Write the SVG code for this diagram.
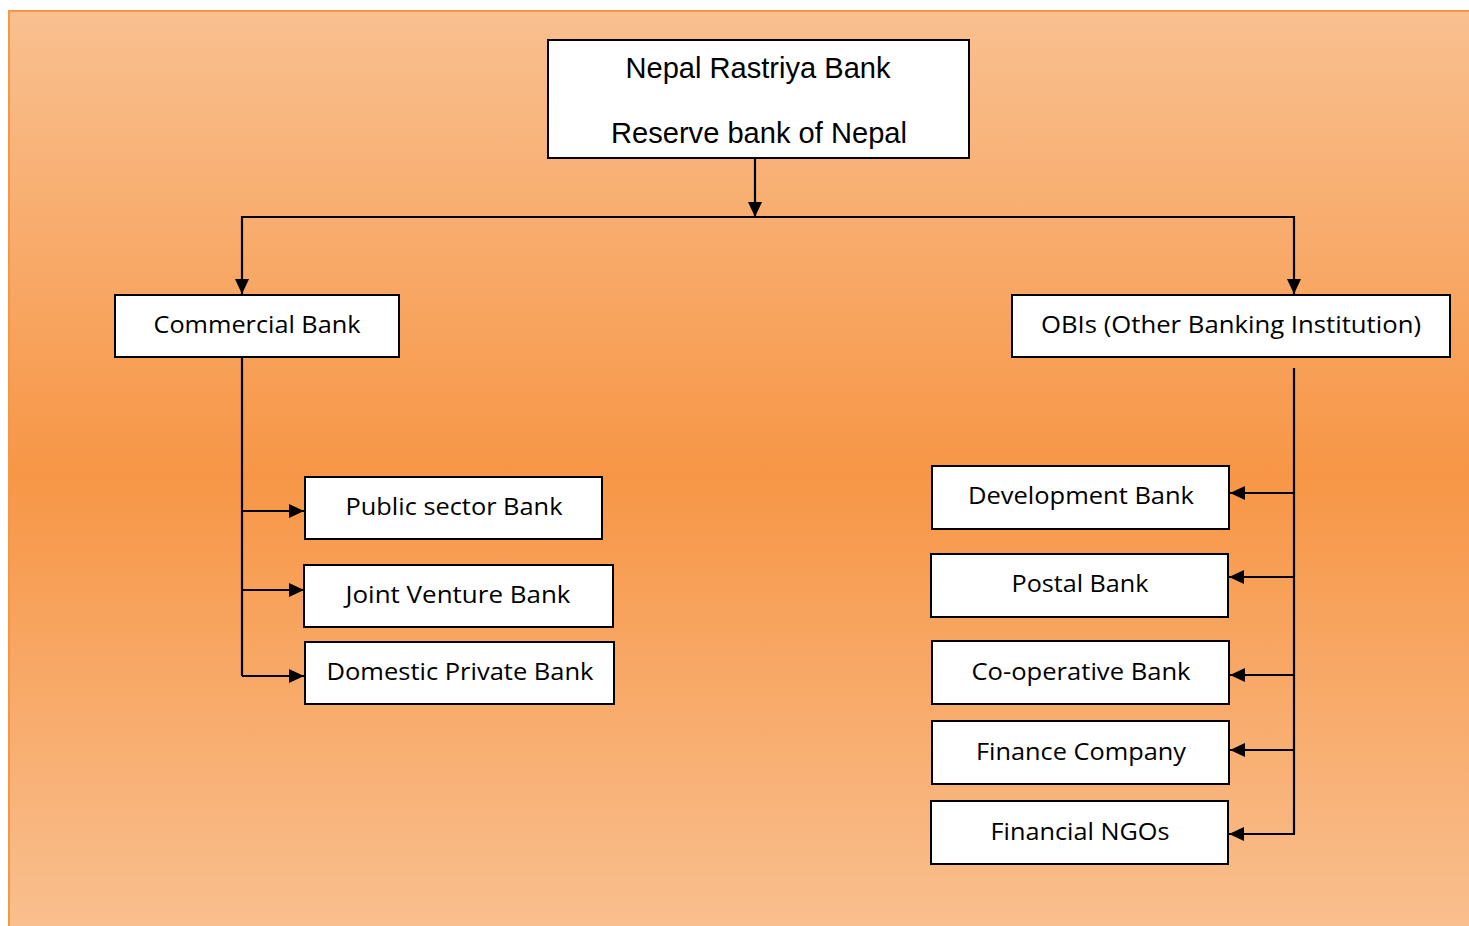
<svg xmlns="http://www.w3.org/2000/svg" width="1469" height="926" viewBox="0 0 1469 926">
<defs>
<linearGradient id="bg" x1="0" y1="0" x2="0" y2="1">
<stop offset="0" stop-color="#F9C090"/>
<stop offset="0.5" stop-color="#F79646"/>
<stop offset="1" stop-color="#F9C090"/>
</linearGradient>
<marker id="ah" viewBox="0 0 15 14" refX="15" refY="7" markerWidth="15" markerHeight="14" markerUnits="userSpaceOnUse" orient="auto">
<path d="M0,0 L15,7 L0,14 Z" fill="#000"/>
</marker>
<style>
.box{fill:#fff;stroke:#000;stroke-width:2}
.t{font-family:"Open Sans","Noto Sans",sans-serif;font-size:24px;fill:#000;text-anchor:middle}
.ta{font-family:"Liberation Sans",Arial,sans-serif;font-size:29px;fill:#000;text-anchor:middle}
.c{fill:none;stroke:#000;stroke-width:2.2}
.ca{fill:none;stroke:#000;stroke-width:2.2;marker-end:url(#ah)}
</style>
</defs>
<rect x="9" y="11" width="1470" height="925" fill="url(#bg)" stroke="#F79646" stroke-width="2"/>
<g id="connectors">
<path class="ca" d="M755,158 V217"/>
<path class="c" d="M242,217 H1294"/>
<path class="ca" d="M242,216 V294"/>
<path class="ca" d="M1294,216 V294"/>
<path class="c" d="M242,357 V676"/>
<path class="ca" d="M242,511 H304"/>
<path class="ca" d="M242,590 H304"/>
<path class="ca" d="M242,676 H304"/>
<path class="c" d="M1294,368 V834"/>
<path class="ca" d="M1295,493 H1230"/>
<path class="ca" d="M1295,577 H1229"/>
<path class="ca" d="M1295,675 H1230"/>
<path class="ca" d="M1295,750 H1230"/>
<path class="ca" d="M1295,834 H1229"/>
</g>
<g id="nrb">
<rect class="box" x="548" y="40" width="421" height="118"/>
<text class="ta" x="758" y="78" textLength="265" lengthAdjust="spacingAndGlyphs">Nepal Rastriya Bank</text>
<text class="ta" x="759" y="143" textLength="296" lengthAdjust="spacingAndGlyphs">Reserve bank of Nepal</text>
</g>
<g id="commercial">
<rect class="box" x="115" y="295" width="284" height="62"/>
<text class="t" x="257" y="333" textLength="207" lengthAdjust="spacingAndGlyphs">Commercial Bank</text>
</g>
<g id="obis">
<rect class="box" x="1012" y="295" width="438" height="62"/>
<text class="t" x="1231" y="333" textLength="380" lengthAdjust="spacingAndGlyphs">OBIs (Other Banking Institution)</text>
</g>
<g id="public">
<rect class="box" x="305" y="477" width="297" height="62"/>
<text class="t" x="454" y="515" textLength="217" lengthAdjust="spacingAndGlyphs">Public sector Bank</text>
</g>
<g id="joint">
<rect class="box" x="304" y="565" width="309" height="62"/>
<text class="t" x="458" y="603" textLength="225" lengthAdjust="spacingAndGlyphs">Joint Venture Bank</text>
</g>
<g id="domestic">
<rect class="box" x="305" y="642" width="309" height="62"/>
<text class="t" x="460" y="680" textLength="267" lengthAdjust="spacingAndGlyphs">Domestic Private Bank</text>
</g>
<g id="development">
<rect class="box" x="932" y="466" width="297" height="63"/>
<text class="t" x="1081" y="504" textLength="226" lengthAdjust="spacingAndGlyphs">Development Bank</text>
</g>
<g id="postal">
<rect class="box" x="931" y="554" width="297" height="63"/>
<text class="t" x="1080" y="592" textLength="137" lengthAdjust="spacingAndGlyphs">Postal Bank</text>
</g>
<g id="cooperative">
<rect class="box" x="932" y="641" width="297" height="63"/>
<text class="t" x="1081" y="680" textLength="219" lengthAdjust="spacingAndGlyphs">Co-operative Bank</text>
</g>
<g id="finance">
<rect class="box" x="932" y="721" width="297" height="63"/>
<text class="t" x="1081" y="760" textLength="210" lengthAdjust="spacingAndGlyphs">Finance Company</text>
</g>
<g id="ngos">
<rect class="box" x="931" y="801" width="297" height="63"/>
<text class="t" x="1080" y="840" textLength="179" lengthAdjust="spacingAndGlyphs">Financial NGOs</text>
</g>
</svg>
